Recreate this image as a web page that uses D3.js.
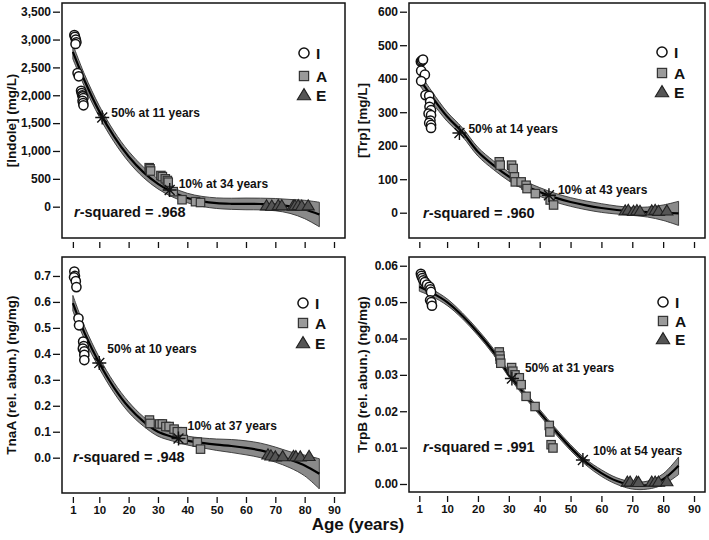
<!DOCTYPE html>
<html><head><meta charset="utf-8">
<script src="https://cdn.jsdelivr.net/npm/d3@7"></script>
<style>
body{margin:0;background:#fff}
text{font-family:"Liberation Sans",Arial,Helvetica,sans-serif;font-weight:bold;fill:#111}
</style>
</head><body>
<svg id="c" width="709" height="540"></svg>
<script>
// ---------- DATA ----------
const ageTicks = [1,10,20,30,40,50,60,70,80,90];
const fitAges  = [1,5,10,15,20,25,30,35,40,45,50,55,60,65,70,75,80,85];

// Indole (mg/L)
const indoleTicks = [0,500,1000,1500,2000,2500,3000,3500];
const indoleFit   = [2780,2261,1711,1261,900,620,409,258,156,95,63,52,50,48,37,5,-50,-140];
const indoleBand  = [130,110,100,95,95,95,90,85,85,90,95,100,105,105,110,125,165,220];
const indoleI_age = [1.5,1.7,2.0,2.2,1.9,2.6,3.0,3.8,4.0,4.2,4.4,4.6,4.3,4.5,4.6];
const indoleI_val = [3080,3050,3000,2950,2920,2400,2340,2080,2040,2000,1980,1950,1900,1860,1820];
const indoleA_age = [27.0,27.3,27.5,31.0,31.5,32.5,33.2,33.5,35.2,38.2,42.8,44.5];
const indoleA_val = [700,680,640,560,540,500,470,440,270,125,90,75];
const indoleE_age = [67,68.8,71,72.2,76.1,76.7,77.8,79,81.2];
const indoleE_val = [20,15,25,20,15,20,25,15,20];
const indoleStars = [[11,1600,"50% at 11 years"],[34,300,"10% at 34 years"]];
const indoleR2 = ".968";

// Trp (mg/L)
const trpTicks = [0,100,200,300,400,500,600];
const trpFit   = [400,347,287,240,182,142,108,82,62,45,32,22,14,8,4,2,0,-2];
const trpBand  = [18,16,14,13,13,13,13,13,13,13,13,13,13,12,12,15,23,36];
const trpI_age = [1.5,1.8,2.2,1.6,2.8,1.6,3.0,4.2,4.5,4.3,4.8,4.0,4.8,4.6,4.2,4.8,4.8];
const trpI_val = [451,454,457,424,412,393,351,349,331,316,306,296,291,275,268,262,253];
const trpA_age = [26.9,27.2,30.9,31.4,31.8,32.1,34.0,35.6,35.9,38.6,43.4,44.5];
const trpA_val = [152,142,142,132,107,92,92,82,72,57,38,23];
const trpE_age = [67.7,68.7,70.4,71.5,72.5,76.3,77.4,78.5,81.2];
const trpE_val = [6,8,5,7,5,6,8,5,6];
const trpStars = [[14,238,"50% at 14 years"],[43,52,"10% at 43 years"]];
const trpR2 = ".960";

// TnaA (rel. abun., ng/mg)
const tnaTicks = [0,0.1,0.2,0.3,0.4,0.5,0.6,0.7];
const tnaFit   = [0.595,0.48,0.365,0.27,0.195,0.14,0.10,0.08,0.066,0.057,0.050,0.045,0.038,0.028,0.012,-0.008,-0.03,-0.062];
const tnaBand  = [0.03,0.025,0.021,0.02,0.02,0.018,0.017,0.016,0.017,0.019,0.022,0.025,0.027,0.028,0.029,0.031,0.04,0.058];
const tnaI_age = [1.5,1.7,1.4,2.0,2.2,2.9,3.1,4.5,4.7,4.4,4.9,4.9,4.9];
const tnaI_val = [0.717,0.70,0.695,0.68,0.657,0.537,0.51,0.447,0.43,0.42,0.41,0.396,0.376];
const tnaA_age = [27.1,27.3,30.6,31.5,32.7,33.8,35.5,36.6,38.3,38.6,43.4,44.5];
const tnaA_val = [0.145,0.132,0.13,0.13,0.12,0.12,0.11,0.10,0.10,0.07,0.06,0.033];
const tnaE_age = [67.5,68.5,70,72.5,76.2,77,78.5,81.5];
const tnaE_val = [0.012,0.008,0.004,0.005,0.006,0.005,0.004,0.006];
const tnaStars = [[10,0.365,"50% at 10 years"],[37,0.074,"10% at 37 years"]];
const tnaR2 = ".948";

// TrpB (rel. abun., ng/mg)
const trpbTicks = [0,0.01,0.02,0.03,0.04,0.05,0.06];
const trpbFit   = [0.0542,0.0526,0.0500,0.0462,0.0416,0.0364,0.0302,0.0248,0.0197,0.0147,0.0100,0.0060,0.0030,0.0008,-0.0004,-0.0003,0.0013,0.0050];
const trpbBand  = [0.0012,0.001,0.0009,0.0008,0.0008,0.0008,0.0008,0.0008,0.0008,0.0008,0.0008,0.0008,0.0009,0.0009,0.001,0.0011,0.0015,0.0024];
const trpbI_age = [1.5,1.7,2.0,2.3,2.8,3.5,4.3,4.6,4.8,4.5,4.9,5.1];
const trpbI_val = [0.0578,0.0572,0.0566,0.0560,0.0555,0.0548,0.0542,0.0535,0.0528,0.0505,0.0500,0.0490];
const trpbA_age = [26.9,27.1,27.2,27.4,30.9,31.3,32.0,33.4,34.0,35.6,38.5,43.1,43.3,43.7,44.3];
const trpbA_val = [0.0363,0.0352,0.0343,0.0332,0.0320,0.0310,0.0300,0.0292,0.0273,0.0241,0.0213,0.0161,0.0143,0.0108,0.0099];
const trpbE_age = [68.4,69.3,71.4,72.0,76.3,77.4,78.5,81.2];
const trpbE_val = [0.0006,0.0006,0.0006,0.0005,0.0006,0.0006,0.0006,0.0007];
const trpbStars = [[31,0.029,"50% at 31 years"],[54,0.0066,"10% at 54 years"]];
const trpbR2 = ".991";

const groupNames = ["I","A","E"];

// ---------- LAYOUT ----------
const panels = [
  {box:[62,3,345,238], xDom:[-2.71,93.75], yDom:[-562,3656], ticks:indoleTicks, fmt:d3.format(","),
   title:"[Indole] (mg/L)", titleX:11, fit:indoleFit, band:indoleBand,
   pts:[[indoleI_age,indoleI_val],[indoleA_age,indoleA_val],[indoleE_age,indoleE_val]],
   stars:indoleStars, lab:[[9,-5],[9,-6]], r2:indoleR2, r2Pos:[74,212], leg:[304,53,76,95], xLabels:false},
  {box:[409,3,705,238], xDom:[-2.34,93.56], yDom:[-75.5,626], ticks:trpTicks, fmt:d3.format("d"),
   title:"[Trp] [mg/L]", titleX:362, fit:trpFit, band:trpBand,
   pts:[[trpI_age,trpI_val],[trpA_age,trpA_val],[trpE_age,trpE_val]],
   stars:trpStars, lab:[[9,-4],[9,-5]], r2:trpR2, r2Pos:[423,212.5], leg:[662,52,73,92], xLabels:false},
  {box:[62,257,345,493], xDom:[-2.71,93.75], yDom:[-0.136,0.773], ticks:tnaTicks, fmt:d3.format(".1f"),
   title:"TnaA (rel. abun.) (ng/mg)", titleX:11, fit:tnaFit, band:tnaBand,
   pts:[[tnaI_age,tnaI_val],[tnaA_age,tnaA_val],[tnaE_age,tnaE_val]],
   stars:tnaStars, lab:[[8,-14],[9,-13]], r2:tnaR2, r2Pos:[73,457], leg:[303,303,323,343], xLabels:true},
  {box:[409,257,705,492], xDom:[-2.34,93.56], yDom:[-0.0022,0.0624], ticks:trpbTicks, fmt:d3.format(".2f"),
   title:"TrpB (rel. abun.) (ng/mg)", titleX:362, fit:trpbFit, band:trpbBand,
   pts:[[trpbI_age,trpbI_val],[trpbA_age,trpbA_val],[trpbE_age,trpbE_val]],
   stars:trpbStars, lab:[[13,-11],[10,-9]], r2:trpbR2, r2Pos:[423,447], leg:[663,302,321,339], xLabels:true}
];

const svg = d3.select("#c");

function marker(g, type, x, y, k){
  k = k || 1;
  if(type===0){
    g.append("circle").attr("cx",x).attr("cy",y).attr("r",4.6*k)
     .attr("fill","#fff").attr("stroke","#111").attr("stroke-width",1.5);
  } else if(type===1){
    const h=4.2*k;
    g.append("rect").attr("x",x-h).attr("y",y-h).attr("width",2*h).attr("height",2*h)
     .attr("fill","#9a9a9a").attr("stroke","#333").attr("stroke-width",1.2);
  } else {
    const s=5.8*k;
    g.append("path").attr("d",`M${x},${y-s}L${x+s*1.05},${y+s*0.75}L${x-s*1.05},${y+s*0.75}Z`)
     .attr("fill","#555").attr("stroke","#222").attr("stroke-width",1.1);
  }
}

function star(g,x,y){
  const r=7;
  const p=[];
  for(let k=0;k<4;k++){
    const a=k*Math.PI/4;
    p.push(`M${x-r*Math.cos(a)},${y-r*Math.sin(a)}L${x+r*Math.cos(a)},${y+r*Math.sin(a)}`);
  }
  g.append("path").attr("d",p.join("")).attr("stroke","#111").attr("stroke-width",1.4).attr("fill","none");
}

panels.forEach(P=>{
  const [L,T,R,B]=P.box;
  const x=d3.scaleLinear().domain(P.xDom).range([L,R]);
  const y=d3.scaleLinear().domain(P.yDom).range([B,T]);
  const g=svg.append("g");
  const clipId="clip"+L+"_"+T;
  svg.append("clipPath").attr("id",clipId).append("rect").attr("x",L).attr("y",T).attr("width",R-L).attr("height",B-T);
  const plot=g.append("g").attr("clip-path",`url(#${clipId})`);

  const rows=fitAges.map((a,i)=>({a, v:P.fit[i], h:P.band[i]}));
  const area=d3.area().x(d=>x(d.a)).y0(d=>y(d.v-d.h)).y1(d=>y(d.v+d.h)).curve(d3.curveCatmullRom.alpha(0.5));
  plot.append("path").attr("d",area(rows)).attr("fill","#8a8a8a").attr("stroke","#333").attr("stroke-width",0.9);
  const line=d3.line().x(d=>x(d.a)).y(d=>y(d.v)).curve(d3.curveCatmullRom.alpha(0.5));
  plot.append("path").attr("d",line(rows)).attr("fill","none").attr("stroke","#000").attr("stroke-width",2.2);

  // points
  P.pts.forEach((pp,t)=>{
    pp[0].forEach((a,i)=>marker(plot,t,x(a),y(pp[1][i])));
  });

  // stars + labels
  P.stars.forEach((s,i)=>{
    const sx=x(s[0]), sy=y(s[1]);
    star(g,sx,sy);
    g.append("text").attr("x",sx+P.lab[i][0]).attr("y",sy+P.lab[i][1]).attr("dy","0.35em")
     .attr("font-size",12).text(s[2]);
  });

  // r-squared
  const rt=g.append("text").attr("x",P.r2Pos[0]).attr("y",P.r2Pos[1]).attr("dy","0.35em").attr("font-size",14.5);
  rt.append("tspan").attr("font-style","italic").text("r");
  rt.append("tspan").text("-squared = "+P.r2);

  // legend
  groupNames.forEach((n,i)=>{
    const ly=P.leg[i+1];
    marker(g,i,P.leg[0],ly,1.1);
    g.append("text").attr("x",P.leg[0]+12).attr("y",ly).attr("dy","0.36em").attr("font-size",15.5).text(n);
  });

  // box
  g.append("rect").attr("x",L).attr("y",T).attr("width",R-L).attr("height",B-T)
   .attr("fill","none").attr("stroke","#111").attr("stroke-width",1.5);

  // y axis
  const ya=g.append("g").attr("transform",`translate(${L-2},0)`)
    .call(d3.axisLeft(y).tickValues(P.ticks).tickFormat(P.fmt).tickSize(7).tickPadding(2));
  ya.select(".domain").remove();
  ya.selectAll("line").attr("stroke","#111").attr("stroke-width",1.3);
  ya.selectAll("text").attr("font-size",12).attr("font-family",null).attr("fill","#111");

  // x axis
  const xa=g.append("g").attr("transform",`translate(0,${B+4})`)
    .call(d3.axisBottom(x).tickValues(ageTicks).tickFormat(P.xLabels?d3.format("d"):"").tickSize(6).tickPadding(3));
  xa.select(".domain").remove();
  xa.selectAll("line").attr("stroke","#111").attr("stroke-width",1.3);
  xa.selectAll("text").attr("font-size",11.5).attr("font-family",null).attr("fill","#111");

  // y title
  g.append("text").attr("transform",`translate(${P.titleX},${(T+B)/2}) rotate(-90)`)
   .attr("text-anchor","middle").attr("dy","0.35em").attr("font-size",13.5).text(P.title);
});

svg.append("text").attr("x",358).attr("y",530).attr("text-anchor","middle").attr("font-size",17).text("Age (years)");
</script>
</body></html>
